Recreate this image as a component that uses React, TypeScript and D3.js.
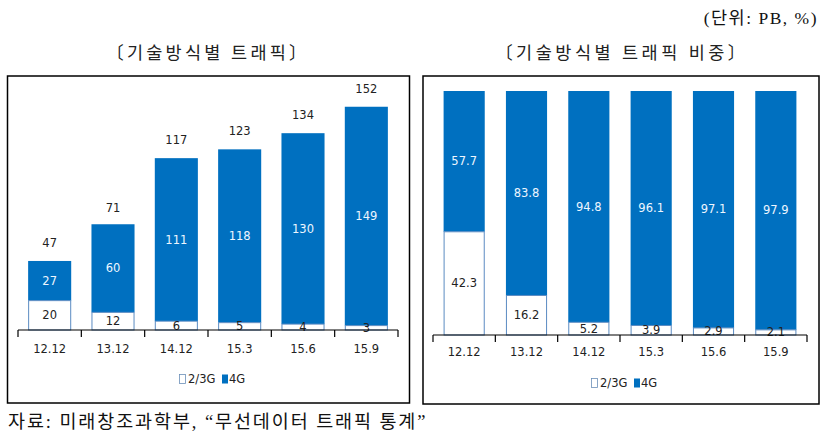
import React from "react";
import * as d3 from "d3";

const categories = ["12.12", "13.12", "14.12", "15.3", "15.6", "15.9"];
const traffic23G = [20, 12, 6, 5, 4, 3];
const traffic4G = [27, 60, 111, 118, 130, 149];
const trafficTotal = [47, 71, 117, 123, 134, 152];
const share23G = [42.3, 16.2, 5.2, 3.9, 2.9, 2.1];
const share4G = [57.7, 83.8, 94.8, 96.1, 97.1, 97.9];
const seriesNames = ["2/3G", "4G"];

const BLUE = "#0070C0";
const OUTLINE = "#5b8bc2";
const NUM_FONT = "'DejaVu Sans', Verdana, sans-serif";
const KR_FONT = "'Liberation Serif', 'Noto Sans CJK KR', serif";

type PanelProps = {
  frame: { x: number; y: number; w: number; h: number };
  xRange: [number, number];
  yRange: [number, number];
  yMax: number;
  padding: number;
  low: number[];
  high: number[];
  totals?: number[];
  labelY: number;
  legendX: number;
  legendY: number;
  fmt: (v: number) => string;
};

function Panel(p: PanelProps) {
  const x = d3
    .scaleBand<string>()
    .domain(categories)
    .range(p.xRange)
    .paddingInner(p.padding)
    .paddingOuter(p.padding / 2);
  const y = d3.scaleLinear().domain([0, p.yMax]).range(p.yRange);
  const step = x.step();
  const axisY = p.yRange[0];
  const ticks = d3.range(categories.length + 1).map((i) => p.xRange[0] + i * step);
  const legendW = 62;
  const lx = p.legendX - legendW / 2;
  return (
    <g>
      <rect
        x={p.frame.x}
        y={p.frame.y}
        width={p.frame.w}
        height={p.frame.h}
        fill="#fff"
        stroke="#000"
        strokeWidth={1.5}
      />
      {categories.map((c, i) => {
        const bx = x(c)!;
        const bw = x.bandwidth();
        const y0 = y(0);
        const y1 = y(p.low[i]);
        const y2 = y(p.low[i] + p.high[i]);
        return (
          <g key={c}>
            <rect x={bx} y={y2} width={bw} height={y1 - y2} fill={BLUE} />
            <rect
              x={bx + 0.5}
              y={y1}
              width={bw - 1}
              height={y0 - y1}
              fill="#fff"
              stroke={OUTLINE}
              strokeWidth={1}
            />
            <text
              x={bx + bw / 2}
              y={(y1 + y2) / 2}
              textAnchor="middle"
              dominantBaseline="central"
              fontFamily={NUM_FONT}
              fontSize={11.5}
              fill="#eef6ff"
            >
              {p.fmt(p.high[i])}
            </text>
            <text
              x={bx + bw / 2}
              y={(y0 + y1) / 2}
              textAnchor="middle"
              dominantBaseline="central"
              fontFamily={NUM_FONT}
              fontSize={11.5}
              fill="#222"
            >
              {p.fmt(p.low[i])}
            </text>
            {p.totals && (
              <text
                x={bx + bw / 2}
                y={y(p.totals[i]) - 18}
                textAnchor="middle"
                dominantBaseline="central"
                fontFamily={NUM_FONT}
                fontSize={11.5}
                fill="#222"
              >
                {p.totals[i]}
              </text>
            )}
            <text
              x={bx + bw / 2}
              y={p.labelY}
              textAnchor="middle"
              dominantBaseline="central"
              fontFamily={NUM_FONT}
              fontSize={11.5}
              fill="#222"
            >
              {c}
            </text>
          </g>
        );
      })}
      <line x1={p.xRange[0]} x2={p.xRange[1]} y1={axisY} y2={axisY} stroke="#000" strokeWidth={1.2} />
      {ticks.map((t, i) => (
        <line key={i} x1={t} x2={t} y1={axisY} y2={axisY + 7} stroke="#000" strokeWidth={1.2} />
      ))}
      <g fontFamily={NUM_FONT} fontSize={11.5} fill="#222">
        <rect x={lx + 0.5} y={p.legendY - 4.5} width={6} height={9} fill="#fff" stroke="#6b8fb8" strokeWidth={0.8} />
        <text x={lx + 9} y={p.legendY} dominantBaseline="central">
          {seriesNames[0]}
        </text>
        <rect x={lx + 43} y={p.legendY - 4.5} width={6} height={9} fill={BLUE} />
        <text x={lx + 50} y={p.legendY} dominantBaseline="central">
          {seriesNames[1]}
        </text>
      </g>
    </g>
  );
}

export default function App() {
  return (
    <div style={{ position: "fixed", left: 0, top: 0 }}>
      <svg width={836} height={443} style={{ display: "block", background: "#fff" }}>
        <text x={818} y={18} textAnchor="end" dominantBaseline="central" fontFamily={KR_FONT} fontSize={17.5} letterSpacing={1.5} fill="#111">
          (단위: PB, %)
        </text>
        <text x={208} y={53} textAnchor="middle" dominantBaseline="central" fontFamily={KR_FONT} fontSize={17.5} letterSpacing={3.2} fill="#222">
          〔기술방식별 트래픽〕
        </text>
        <text x={622} y={53} textAnchor="middle" dominantBaseline="central" fontFamily={KR_FONT} fontSize={17.5} letterSpacing={3.5} fill="#222">
          〔기술방식별 트래픽 비중〕
        </text>
        <Panel
          frame={{ x: 7.5, y: 76, w: 402, h: 327 }}
          xRange={[18, 398]}
          yRange={[330, 95]}
          yMax={160}
          padding={0.32}
          low={traffic23G}
          high={traffic4G}
          totals={trafficTotal}
          labelY={349}
          legendX={210}
          legendY={379}
          fmt={(v) => String(v)}
        />
        <Panel
          frame={{ x: 423, y: 76, w: 396, h: 328 }}
          xRange={[433, 807]}
          yRange={[335, 91]}
          yMax={100}
          padding={0.34}
          low={share23G}
          high={share4G}
          labelY={352}
          legendX={622}
          legendY={383}
          fmt={(v) => v.toFixed(1)}
        />
        <text x={8} y={422} dominantBaseline="central" fontFamily={KR_FONT} fontSize={18.5} letterSpacing={1.9} fill="#111">
          자료: 미래창조과학부, “무선데이터 트래픽 통계”
        </text>
      </svg>
    </div>
  );
}
